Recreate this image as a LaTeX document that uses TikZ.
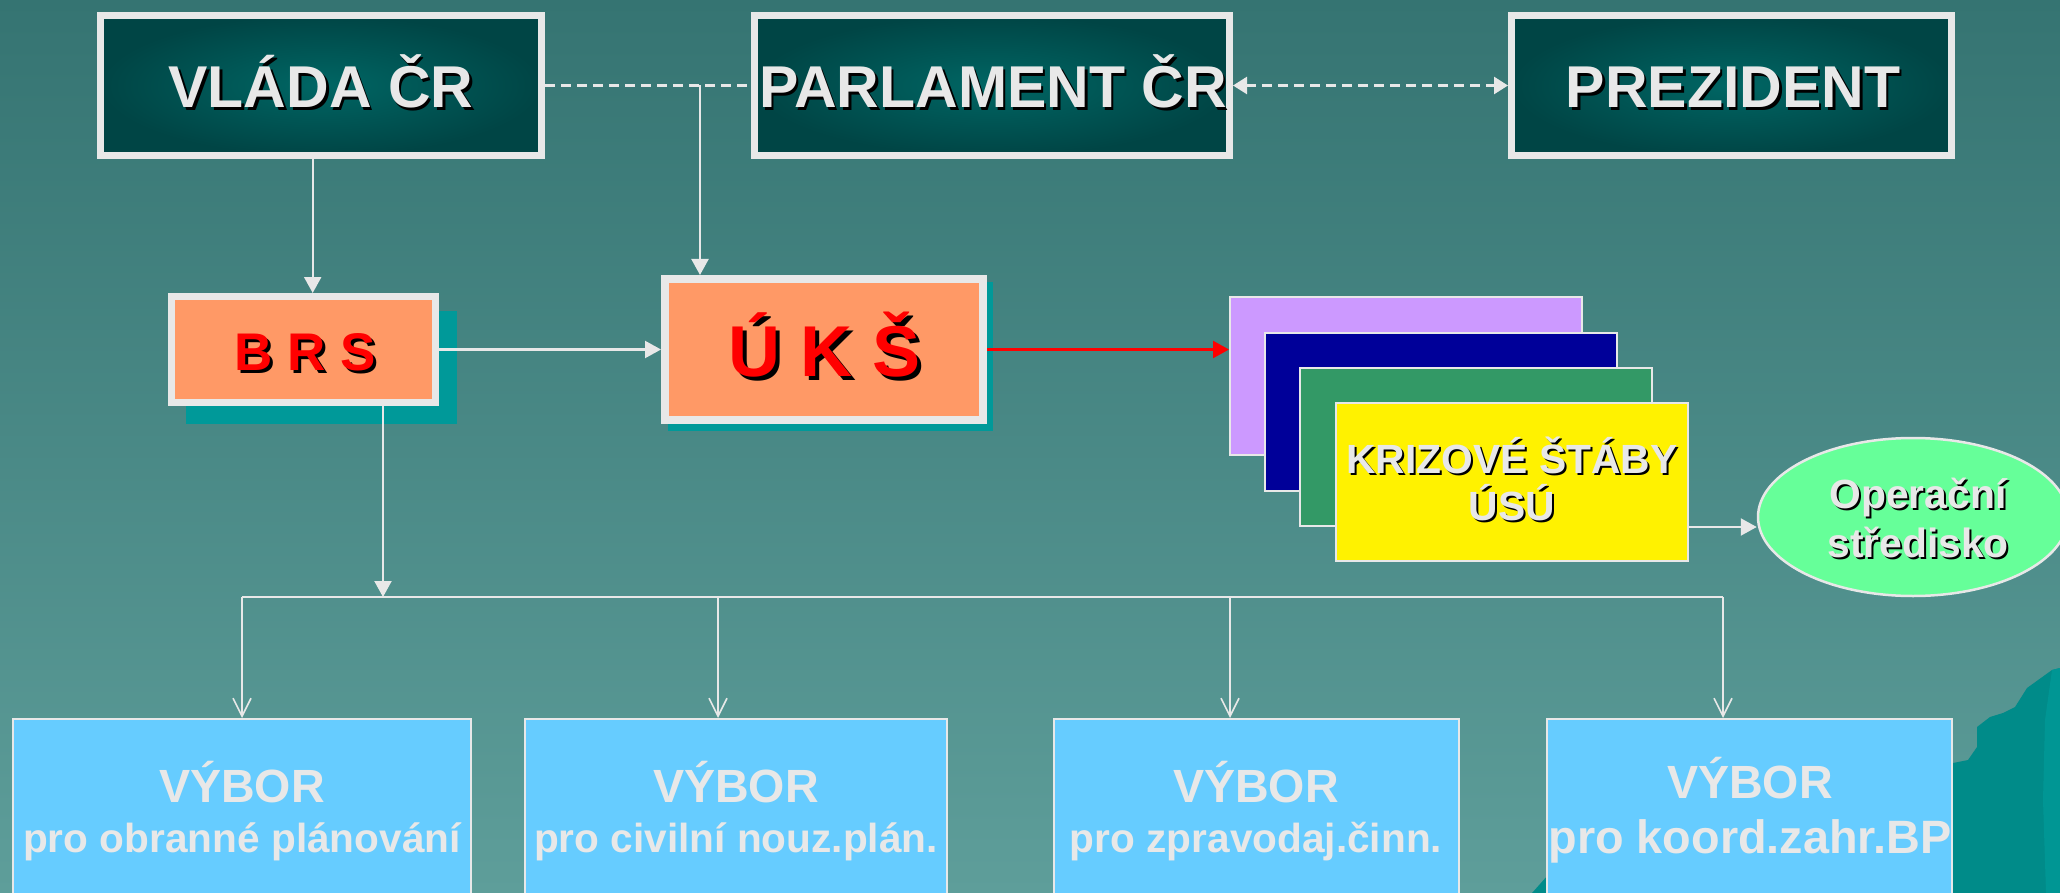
\documentclass[tikz,border=0pt]{standalone}
\usepackage{fontspec}
\setmainfont{Liberation Sans}
\usetikzlibrary{arrows.meta,shapes.geometric}
\definecolor{bgtop}{HTML}{357472}
\definecolor{bgbot}{HTML}{5E9E9A}
\definecolor{lg}{HTML}{E8E8E8}
\definecolor{darkin}{HTML}{006664}
\definecolor{darkout}{HTML}{004545}
\definecolor{salmon}{HTML}{FF9966}
\definecolor{tealsh}{HTML}{009999}
\definecolor{lilac}{HTML}{CC99FF}
\definecolor{navyb}{HTML}{000099}
\definecolor{greenb}{HTML}{339966}
\definecolor{skyb}{HTML}{66CCFF}
\definecolor{mint}{HTML}{66FF99}
\definecolor{mount}{HTML}{008B89}
\definecolor{mountl}{HTML}{009694}
\newcommand\shadowed[3]{\rlap{\kern#1\raisebox{-#1}{\textcolor{black}{#3}}}\textcolor{#2}{#3}}
\begin{document}
\begin{tikzpicture}[x=0.5pt,y=-0.5pt,
  topbox/.style={draw=lg, line width=3.35pt, inner color=darkin, outer color=darkout, minimum height=70.15pt, inner sep=0pt},
  toptext/.style={anchor=base, inner sep=0pt, font=\fontsize{29.5}{32}\selectfont\bfseries},
  orangebox/.style={draw=lg, fill=salmon, inner sep=0pt},
  stackbox/.style={draw=lg, line width=1pt, minimum width=176pt, minimum height=79pt, inner sep=0pt},
  midtext/.style={anchor=base, inner sep=0pt, font=\fontsize{20.4}{24}\selectfont\bfseries},
  vbox/.style={draw=lg, line width=1pt, fill=skyb, minimum height=121pt, inner sep=0pt},
  vtitle/.style={anchor=base, inner sep=0pt, text=lg, font=\fontsize{23.3}{26}\selectfont\bfseries},
  vsub/.style={anchor=base, inner sep=0pt, text=lg, font=\fontsize{20.3}{24}\selectfont\bfseries},
  conn/.style={draw=lg, line width=1.1pt, -{Triangle[length=8pt,width=8.5pt]}},
  dashline/.style={draw=lg, line width=1.3pt, dash pattern=on 5pt off 3pt},
  openarrow/.style={draw=lg, line width=0.8pt, -{Straight Barb[length=9pt,width=9pt]}}
]
\useasboundingbox (0,0) rectangle (2060,893);
\clip (0,0) rectangle (2060,893);
% background
\shade[top color=bgtop, bottom color=bgbot] (0,0) rectangle (2060,893);
% decorative shape bottom right
\fill[mount] (1532,893) -- (1548,875) -- (1953,763) -- (1968,760) -- (1977,747) -- (1977,727) -- (1990,717) -- (2003,713) -- (2015,707) -- (2027,688) -- (2052,670) -- (2060,668) -- (2060,893) -- cycle;
\fill[mountl] (2052,670) -- (2060,668) -- (2060,893) -- (2046,893) -- (2043,800) -- (2045,720) -- cycle;

% top row
\node[topbox, minimum width=220.65pt] (vlada) at (321,85.5) {};
\node[toptext] (vladat) at (321,108) {\shadowed{1.3pt}{lg}{VLÁDA ČR}};
\node[topbox, minimum width=237.65pt] (parl) at (992,85.5) {};
\node[toptext] (parlt) at (993,108) {\shadowed{1.3pt}{lg}{PARLAMENT ČR}};
\node[topbox, minimum width=220.15pt] (prez) at (1731.5,85.5) {};
\node[toptext] (prezt) at (1733,108) {\shadowed{1.3pt}{lg}{PREZIDENT}};

% BRS and UKS with shadows
\fill[tealsh] (186,311) rectangle (457,424);
\node[orangebox, line width=3.35pt, minimum width=132.15pt, minimum height=53.15pt] (brs) at (303.5,349.5) {};
\node[anchor=base, inner sep=0pt, font=\fontsize{26.5}{30}\selectfont\bfseries] (brst) at (305,370) {\shadowed{1.5pt}{red}{B R S}};
\fill[tealsh] (668,282) rectangle (993,431);
\node[orangebox, line width=4.15pt, minimum width=158.85pt, minimum height=70.35pt] (uks) at (824,349.5) {};
\node[anchor=base, inner sep=0pt, font=\fontsize{36}{40}\selectfont\bfseries] (ukst) at (825,376.7) {\shadowed{2pt}{red}{Ú K Š}};

% stack of crisis staffs
\node[stackbox, fill=lilac] (s1) at (1406,376) {};
\node[stackbox, fill=navyb] (s2) at (1441,411.5) {};
\node[stackbox, fill=greenb] (s3) at (1476,447) {};
\node[stackbox, fill=yellow] (s4) at (1511.5,482) {};
\node[midtext] (s4a) at (1512,473) {\shadowed{1pt}{lg}{KRIZOVÉ ŠTÁBY}};
\node[midtext] (s4b) at (1512,520) {\shadowed{1pt}{lg}{ÚSÚ}};

% operations centre
\node[ellipse, draw=lg, line width=1.25pt, fill=mint, minimum width=155pt, minimum height=79pt, inner sep=0pt] (op) at (1913,517) {};
\node[midtext] (opa) at (1918,508) {\shadowed{1pt}{lg}{Operační}};
\node[midtext] (opb) at (1918,557) {\shadowed{1pt}{lg}{středisko}};

% committees
\node[vbox, minimum width=229pt] (v1) at (242,840) {};
\node[vbox, minimum width=211pt] (v2) at (736,840) {};
\node[vbox, minimum width=202.5pt] (v3) at (1256.5,840) {};
\node[vbox, minimum width=202.5pt] (v4) at (1749.5,840) {};
\node[vtitle] (v1a) at (242,802) {VÝBOR};
\node[vsub] (v1b) at (242,852) {pro obranné plánování};
\node[vtitle] (v2a) at (736,802) {VÝBOR};
\node[vsub] (v2b) at (736,852) {pro civilní nouz.plán.};
\node[vtitle] (v3a) at (1256,802) {VÝBOR};
\node[vsub] (v3b) at (1256,852) {pro zpravodaj.činn.};
\node[vtitle] (v4a) at (1750,798) {VÝBOR};
\node[vsub, font=\fontsize{23.4}{26}\selectfont\bfseries] (v4b) at (1750,853) {pro koord.zahr.BP};

% connectors
\coordinate (j1) at (700,85.5);
\coordinate (xa) at (312.7,0);
\coordinate (bx) at (383,597);
\coordinate (c1) at (242,597);
\coordinate (c2) at (718,597);
\coordinate (c3) at (1230,597);
\coordinate (c4) at (1723,597);
\coordinate (ya) at (0,527);

\draw[dashline] (vlada.east) -- (parl.west);
\draw[dashline, {Triangle[length=7pt,width=8.5pt]}-{Triangle[length=7pt,width=8.5pt]}] (parl.east) -- (prez.west);
\draw[conn] (j1) -- (j1 |- uks.north);
\draw[conn] (xa |- vlada.south) -- (xa |- brs.north);
\draw[conn] (brs.east) -- (uks.west);
\draw[conn, draw=red] (uks.east) -- (uks.east -| s1.west);
\draw[conn] (s4.east |- ya) -- (op.west |- ya);
\draw[conn] (bx |- brs.south) -- (bx);
\draw[draw=lg, line width=1pt] (c1) -- (c4);
\draw[openarrow] (c1) -- (c1 |- v1.north);
\draw[openarrow] (c2) -- (c2 |- v2.north);
\draw[openarrow] (c3) -- (c3 |- v3.north);
\draw[openarrow] (c4) -- (c4 |- v4.north);
\end{tikzpicture}
\end{document}
